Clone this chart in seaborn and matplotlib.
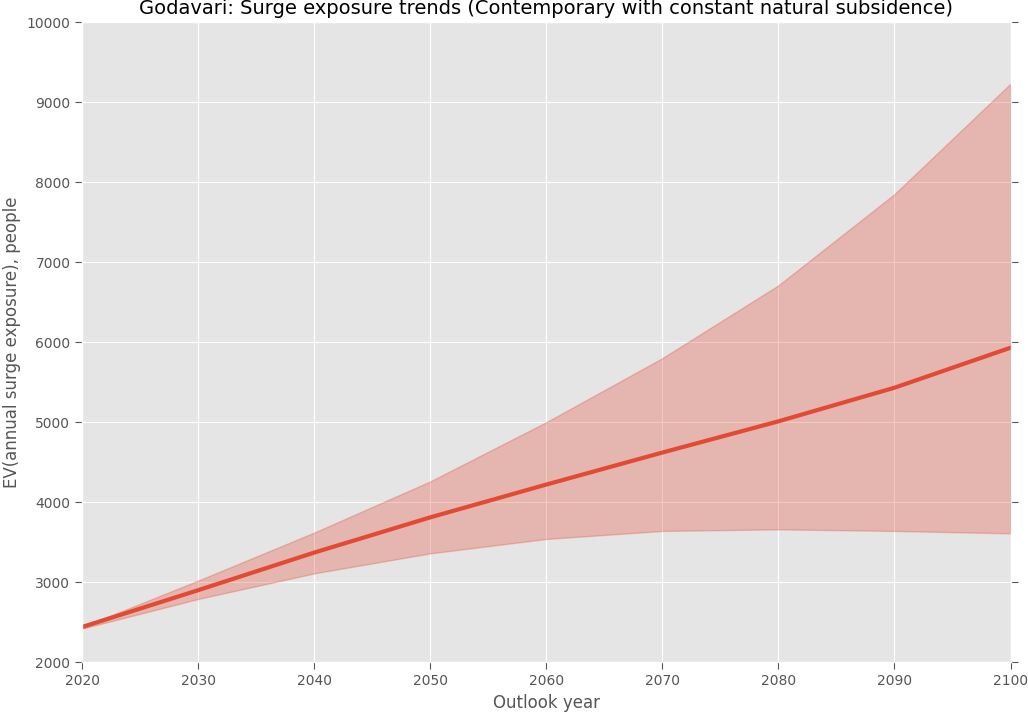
import matplotlib
matplotlib.use("Agg")
import matplotlib.pyplot as plt
import seaborn as sns
import pandas as pd

years = [2020, 2030, 2040, 2050, 2060, 2070, 2080, 2090, 2100]
mean_exposure = [2440, 2900, 3370, 3810, 4220, 4620, 5010, 5430, 5930]
upper_exposure = [2440, 3020, 3620, 4260, 5000, 5800, 6710, 7850, 9230]
lower_exposure = [2420, 2790, 3110, 3360, 3540, 3640, 3660, 3640, 3610]

df = pd.DataFrame({"year": years, "mean": mean_exposure,
                   "upper": upper_exposure, "lower": lower_exposure})

plt.style.use("ggplot")
plt.rcParams["font.family"] = ["DejaVu Sans"]

fig, ax = plt.subplots(figsize=(10.28, 7.12), dpi=100)
ax.fill_between(df["year"], df["lower"], df["upper"], color="#E24A33", alpha=0.3, linewidth=1)
sns.lineplot(data=df, x="year", y="mean", ax=ax, color="#E24A33", linewidth=3)

ax.set_xlim(2020, 2100)
ax.set_ylim(2000, 10000)
ax.set_xticks(range(2020, 2101, 10))
ax.set_yticks(range(2000, 10001, 1000))
ax.tick_params(axis="both", direction="out", length=5, color="#555555",
               labelsize=10, top=False, right=True)
ax.set_xlabel("Outlook year", fontsize=12, color="#555555")
ax.set_ylabel("EV(annual surge exposure), people", fontsize=12, color="#555555")
ax.set_title("Godavari: Surge exposure trends (Contemporary with constant natural subsidence)",
             fontsize=14, color="black")

fig.subplots_adjust(left=0.08, right=0.983, bottom=0.07, top=0.969)
fig.savefig("out.png", dpi=100)
